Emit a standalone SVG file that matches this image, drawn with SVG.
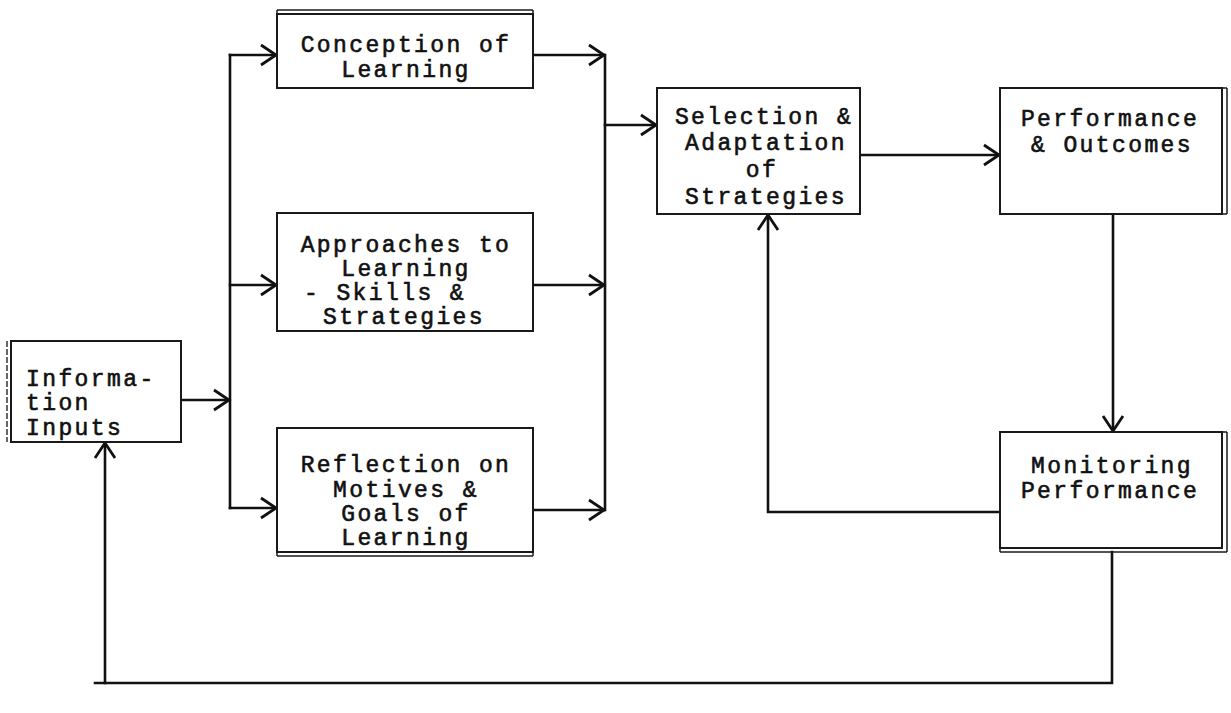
<svg xmlns="http://www.w3.org/2000/svg" width="1231" height="713" viewBox="0 0 1231 713">
<style>
.box{fill:#fff;stroke:#1a1a1a;stroke-width:2}
.thin{fill:none;stroke:#1a1a1a;stroke-width:1.5}
.dash{fill:none;stroke:#333;stroke-width:1.5;stroke-dasharray:6 2}
.lbl{font-family:"Liberation Mono",monospace;font-weight:normal;font-size:23px;letter-spacing:2.4px;fill:#111;stroke:#111;stroke-width:0.6;text-anchor:middle}
.lft{text-anchor:start}
.con{fill:none;stroke:#111;stroke-width:2.6;stroke-linecap:square}
</style>
<defs>
<marker id="ah" markerUnits="userSpaceOnUse" markerWidth="20" markerHeight="24" refX="17" refY="12" orient="auto" viewBox="0 0 20 24">
<path d="M2,2 L17,12 L2,22" fill="none" stroke="#111" stroke-width="2.8" stroke-linejoin="miter"/>
</marker>
</defs>
<rect width="1231" height="713" fill="#fff"/>
<g id="connectors">
<line class="con" x1="181" y1="400" x2="229" y2="400" marker-end="url(#ah)"/>
<line class="con" x1="230" y1="55" x2="230" y2="508"/>
<line class="con" x1="230" y1="55" x2="276" y2="55" marker-end="url(#ah)"/>
<line class="con" x1="230" y1="285" x2="276" y2="285" marker-end="url(#ah)"/>
<line class="con" x1="230" y1="508" x2="276" y2="508" marker-end="url(#ah)"/>
<line class="con" x1="533" y1="55" x2="604" y2="55" marker-end="url(#ah)"/>
<line class="con" x1="533" y1="285" x2="604" y2="285" marker-end="url(#ah)"/>
<line class="con" x1="533" y1="510" x2="604" y2="510" marker-end="url(#ah)"/>
<line class="con" x1="605" y1="55" x2="605" y2="510"/>
<line class="con" x1="605" y1="125" x2="656" y2="125" marker-end="url(#ah)"/>
<line class="con" x1="860" y1="155" x2="999" y2="155" marker-end="url(#ah)"/>
<line class="con" x1="1113" y1="214" x2="1113" y2="431" marker-end="url(#ah)"/>
<polyline class="con" points="1000,512 768,512 768,215" marker-end="url(#ah)"/>
<polyline class="con" points="1112,552 1112,683 95,683"/>
<line class="con" x1="105" y1="683" x2="105" y2="443" marker-end="url(#ah)"/>
</g>
<g id="info">
<rect class="box" x="11" y="341" width="170" height="101"/>
<line class="dash" x1="7" y1="341" x2="7" y2="442"/>
<text class="lbl lft" x="26" y="386">Informa-</text>
<text class="lbl lft" x="26" y="410">tion</text>
<text class="lbl lft" x="26" y="435">Inputs</text>
</g>
<g id="conception">
<rect class="box" x="277" y="14" width="256" height="74"/>
<line class="thin" x1="277" y1="10" x2="533" y2="10"/>
<line class="thin" x1="277" y1="10" x2="277" y2="14"/>
<line class="thin" x1="533" y1="10" x2="533" y2="14"/>
<text class="lbl" x="406" y="52">Conception of</text>
<text class="lbl" x="406" y="77">Learning</text>
</g>
<g id="approaches">
<rect class="box" x="277" y="213" width="256" height="118"/>
<text class="lbl" x="406" y="252">Approaches to</text>
<text class="lbl" x="406" y="276">Learning</text>
<text class="lbl" x="385" y="300">- Skills &amp;</text>
<text class="lbl" x="404" y="324">Strategies</text>
</g>
<g id="reflection">
<rect class="box" x="277" y="428" width="256" height="124"/>
<line class="thin" x1="277" y1="556" x2="533" y2="556"/>
<line class="thin" x1="533" y1="552" x2="533" y2="556"/>
<line class="thin" x1="277" y1="552" x2="277" y2="556"/>
<text class="lbl" x="406" y="472">Reflection on</text>
<text class="lbl" x="406" y="497">Motives &amp;</text>
<text class="lbl" x="406" y="521">Goals of</text>
<text class="lbl" x="406" y="545">Learning</text>
</g>
<g id="selection">
<rect class="box" x="657" y="88" width="203" height="126"/>
<text class="lbl" x="764" y="124">Selection &amp;</text>
<text class="lbl" x="766" y="150">Adaptation</text>
<text class="lbl" x="762" y="177">of</text>
<text class="lbl" x="766" y="204">Strategies</text>
</g>
<g id="performance">
<rect class="box" x="1000" y="88" width="222" height="126"/>
<line class="thin" x1="1227" y1="88" x2="1227" y2="214"/>
<line class="thin" x1="1222" y1="88" x2="1227" y2="88"/>
<line class="thin" x1="1222" y1="214" x2="1227" y2="214"/>
<text class="lbl" x="1110" y="126">Performance</text>
<text class="lbl" x="1112" y="152">&amp; Outcomes</text>
</g>
<g id="monitoring">
<rect class="box" x="1000" y="432" width="222" height="116"/>
<line class="thin" x1="1227" y1="432" x2="1227" y2="552"/>
<line class="thin" x1="1000" y1="552" x2="1227" y2="552"/>
<line class="thin" x1="1000" y1="548" x2="1000" y2="552"/>
<line class="thin" x1="1222" y1="432" x2="1227" y2="432"/>
<text class="lbl" x="1112" y="473">Monitoring</text>
<text class="lbl" x="1110" y="498">Performance</text>
</g>
</svg>
